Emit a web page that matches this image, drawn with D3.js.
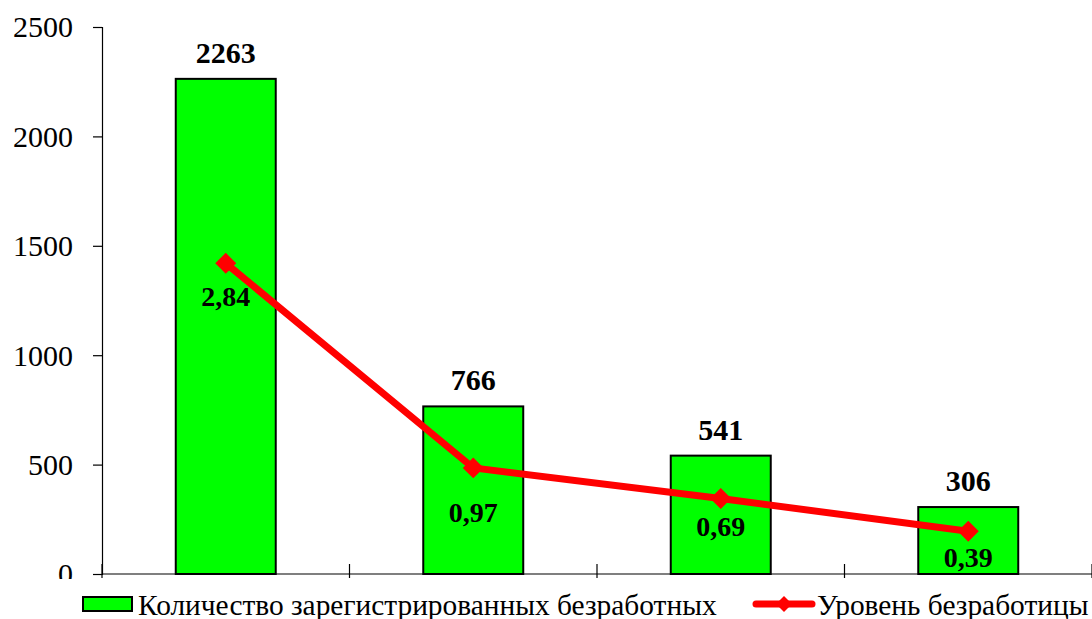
<!DOCTYPE html>
<html>
<head>
<meta charset="utf-8">
<script src="https://cdn.jsdelivr.net/npm/d3@7"></script>
<style>
  body { margin: 0; background: #fff; }
  svg { display: block; }
</style>
</head>
<body>
<script>
/*--- datos ---*/
let categorias = ["2015", "2016", "2017", "2018"];
let desempleados = [2263, 766, 541, 306];
let nivel = [2.84, 0.97, 0.69, 0.39];
let nivelTexto = ["2,84", "0,97", "0,69", "0,39"];
let yTicks = [0, 500, 1000, 1500, 2000, 2500];
let serieBarras = "Количество зарегистрированных безработных";
let serieLinea = "Уровень безработицы";

// ajuste de las etiquetas de la linea (como en el original)
let nivelDy = [43, 54, 37, 36];

/*--- medidas ---*/
let fuente = "Liberation Serif";
let width = 1092;
let height = 619;
let margin = {top: 27, right: 0, bottom: 45, left: 102};
let innerW = width - margin.left - margin.right;
let innerH = height - margin.top - margin.bottom;

/*--- escalas ---*/
let X = d3.scaleBand().domain(categorias).range([0, innerW]).paddingInner(0.596).paddingOuter(0.298);
let Y = d3.scaleLinear().domain([0, 2500]).range([innerH, 0]);
let Y2 = d3.scaleLinear().domain([0, 5]).range([innerH, 0]);

let svg = d3.select("body").append("svg")
    .attr("width", width)
    .attr("height", height)
    .attr("font-family", fuente);

let cuerpito = svg.append("g")
    .attr("transform", "translate(" + margin.left + "," + margin.top + ")");

// recorte para el "0" del eje (coordenadas del cuerpito)
cuerpito.append("clipPath").attr("id", "recorte")
  .append("rect")
    .attr("x", -margin.left).attr("y", -margin.top)
    .attr("width", width).attr("height", 579);

// eje y
let yEje = cuerpito.append("g")
    .attr("clip-path", "url(#recorte)")
    .call(d3.axisLeft(Y).tickValues(yTicks).tickFormat(d3.format("d")).tickSize(9).tickPadding(20));
yEje.attr("font-family", fuente).attr("font-size", 30);
yEje.select(".domain").attr("stroke", "#000").attr("stroke-width", 1.2);
yEje.selectAll(".tick line").attr("stroke", "#000").attr("stroke-width", 1.2);
yEje.selectAll("text")
    .attr("fill", "#000")
    .attr("dy", "0.33em");

// barras
cuerpito.selectAll(".barra")
    .data(desempleados)
    .join("rect")
    .attr("class", "barra")
    .attr("x", (d, i) => X(categorias[i]))
    .attr("y", d => Y(d))
    .attr("width", X.bandwidth())
    .attr("height", d => innerH - Y(d))
    .attr("fill", "#00ff00")
    .attr("stroke", "#000")
    .attr("stroke-width", 2);

// eje x (marcas que cruzan la linea)
let xLimites = d3.range(categorias.length + 1).map(i => i * X.step());
let xEje = cuerpito.append("g").attr("transform", "translate(0," + innerH + ")");
xEje.append("line")
    .attr("x1", 0).attr("x2", innerW)
    .attr("stroke", "#000").attr("stroke-width", 1.2);
xEje.selectAll(".marca")
    .data(xLimites)
    .join("line")
    .attr("class", "marca")
    .attr("x1", d => d).attr("x2", d => d)
    .attr("y1", -10).attr("y2", 4)
    .attr("stroke", "#000").attr("stroke-width", 1.2);

// etiquetas de barras
cuerpito.selectAll(".valorBarra")
    .data(desempleados)
    .join("text")
    .attr("class", "valorBarra")
    .attr("x", (d, i) => X(categorias[i]) + X.bandwidth() / 2)
    .attr("y", d => Y(d) - 16)
    .attr("text-anchor", "middle")
    .attr("font-family", fuente)
    .attr("font-size", 30)
    .attr("font-weight", "bold")
    .text(d => d);

// linea
let linea = d3.line()
    .x((d, i) => X(categorias[i]) + X.bandwidth() / 2)
    .y(d => Y2(d));

cuerpito.append("path")
    .datum(nivel)
    .attr("fill", "none")
    .attr("stroke", "#ff0000")
    .attr("stroke-width", 7)
    .attr("stroke-linejoin", "round")
    .attr("d", linea);

let rombo = d3.symbol().type(d3.symbolSquare).size(220);
cuerpito.selectAll(".rombo")
    .data(nivel)
    .join("path")
    .attr("class", "rombo")
    .attr("d", rombo)
    .attr("transform", (d, i) => "translate(" + (X(categorias[i]) + X.bandwidth() / 2) + "," + Y2(d) + ") rotate(45)")
    .attr("fill", "#ff0000");

cuerpito.selectAll(".valorLinea")
    .data(nivel)
    .join("text")
    .attr("class", "valorLinea")
    .attr("x", (d, i) => X(categorias[i]) + X.bandwidth() / 2)
    .attr("y", (d, i) => Y2(d) + nivelDy[i])
    .attr("text-anchor", "middle")
    .attr("font-family", fuente)
    .attr("font-size", 28)
    .attr("font-weight", "bold")
    .text((d, i) => nivelTexto[i]);

/*--- leyenda ---*/
let leyenda = svg.append("g").attr("transform", "translate(0,604)");
leyenda.append("rect")
    .attr("x", 83).attr("y", -7).attr("width", 49).attr("height", 14)
    .attr("fill", "#00ff00").attr("stroke", "#000").attr("stroke-width", 2);
leyenda.append("text")
    .attr("x", 138).attr("y", 11)
    .attr("font-family", fuente)
    .attr("font-size", 29.4)
    .text(serieBarras);

leyenda.append("line")
    .attr("x1", 756).attr("x2", 812)
    .attr("stroke", "#ff0000").attr("stroke-width", 7).attr("stroke-linecap", "round");
leyenda.append("path")
    .attr("d", d3.symbol().type(d3.symbolSquare).size(130))
    .attr("transform", "translate(784,0) rotate(45)")
    .attr("fill", "#ff0000");
leyenda.append("text")
    .attr("x", 817).attr("y", 11)
    .attr("font-family", fuente)
    .attr("font-size", 29.4)
    .text(serieLinea);
</script>
</body>
</html>
